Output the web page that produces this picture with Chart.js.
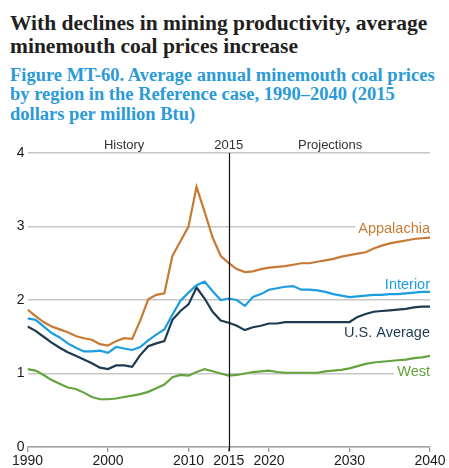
<!DOCTYPE html>
<html>
<head>
<meta charset="utf-8">
<script src="https://cdn.jsdelivr.net/npm/chart.js@4.4.1/dist/chart.umd.min.js"></script>
<style>
  html, body { margin: 0; padding: 0; background: #fff; }
  body { width: 449px; height: 468px; position: relative; overflow: hidden; }
  .title {
    position: absolute; left: 10px; top: 12px; width: 440px;
    font: bold 21.5px "Liberation Serif", "Times New Roman", serif;
    line-height: 22.6px; color: #231f20;
  }
  .subtitle {
    position: absolute; left: 10px; top: 66px; width: 440px;
    font: bold 18.5px "Liberation Serif", "Times New Roman", serif;
    line-height: 19.3px; color: #2a9ad8;
  }
  #wrap { position: absolute; left: 0; top: 130px; width: 449px; height: 338px; }
</style>
</head>
<body>
<div class="title">With declines in mining productivity, average<br>minemouth coal prices increase</div>
<div class="subtitle">Figure MT-60. Average annual minemouth coal prices<br>by region in the Reference case, 1990–2040 (2015<br>dollars per million Btu)</div>
<div id="wrap"><canvas id="coalChart" width="449" height="338"></canvas></div>
<script>
// years 1990..2040
const years = [];
for (let y = 1990; y <= 2040; y++) years.push(y);

const xTicks = [1990, 2000, 2010, 2015, 2020, 2030, 2040];
const yTicks = [0, 1, 2, 3, 4];

// values (2015 dollars per million Btu)
const appalachia = [
  1.87, 1.78, 1.70, 1.64, 1.60, 1.56, 1.51, 1.48, 1.46, 1.40,
  1.38, 1.44, 1.48, 1.47, 1.72, 2.01, 2.07, 2.09, 2.60, 2.80,
  3.00, 3.54, 3.20, 2.85, 2.60, 2.50, 2.42, 2.38, 2.39, 2.42,
  2.44, 2.45, 2.46, 2.48, 2.50, 2.50, 2.52, 2.54, 2.56, 2.59,
  2.61, 2.63, 2.65, 2.70, 2.74, 2.77, 2.79, 2.81, 2.83, 2.84,
  2.85
];
const interior = [
  1.75, 1.73, 1.64, 1.55, 1.49, 1.41, 1.35, 1.30, 1.30, 1.31,
  1.28, 1.36, 1.34, 1.32, 1.36, 1.45, 1.53, 1.60, 1.80, 1.99,
  2.10, 2.20, 2.25, 2.12, 2.00, 2.02, 2.00, 1.92, 2.04, 2.08,
  2.14, 2.16, 2.18, 2.19, 2.14, 2.14, 2.13, 2.11, 2.08, 2.06,
  2.04, 2.05, 2.06, 2.07, 2.07, 2.08, 2.08, 2.09, 2.10, 2.11,
  2.11
];
const usAverage = [
  1.64, 1.58, 1.50, 1.42, 1.35, 1.29, 1.24, 1.19, 1.14, 1.08,
  1.06, 1.11, 1.11, 1.09, 1.25, 1.37, 1.41, 1.44, 1.73, 1.85,
  1.94, 2.17, 2.02, 1.84, 1.72, 1.69, 1.65, 1.59, 1.63, 1.65,
  1.68, 1.68, 1.70, 1.70, 1.70, 1.70, 1.70, 1.70, 1.70, 1.70,
  1.70, 1.77, 1.81, 1.84, 1.85, 1.86, 1.87, 1.88, 1.90, 1.91,
  1.91
];
const west = [
  1.06, 1.04, 0.98, 0.91, 0.86, 0.81, 0.79, 0.74, 0.68, 0.65,
  0.65, 0.66, 0.68, 0.70, 0.72, 0.75, 0.80, 0.85, 0.95, 0.98,
  0.97, 1.02, 1.06, 1.03, 1.00, 0.97, 0.98, 1.00, 1.02, 1.03,
  1.04, 1.02, 1.01, 1.01, 1.01, 1.01, 1.01, 1.03, 1.04, 1.05,
  1.07, 1.10, 1.13, 1.15, 1.16, 1.17, 1.18, 1.19, 1.21, 1.22,
  1.24
];

const colors = {
  appalachia: '#c67a34',
  interior: '#1b9de0',
  usAverage: '#1d3a4f',
  west: '#65a33c'
};

// series name, label baseline (data units), colour
const seriesLabels = [
  { text: 'Appalachia', y: 2.91, color: colors.appalachia, gap: true },
  { text: 'Interior', y: 2.15, color: colors.interior, gap: false },
  { text: 'U.S. Average', y: 1.50, color: colors.usAverage, gap: false },
  { text: 'West', y: 0.966, color: colors.west, gap: true }
];

const headers = [
  { text: 'History', x: 2002 },
  { text: '2015', x: 2015 },
  { text: 'Projections', x: 2027.6 }
];

const labelFont = '14.5px "Liberation Sans", Arial, sans-serif';

function toPoints(values) {
  return years.map((yr, i) => ({ x: yr, y: values[i] }));
}

function makeSet(label, values, color) {
  return {
    label: label,
    data: toPoints(values),
    borderColor: color,
    borderWidth: 2.2,
    pointRadius: 0,
    tension: 0,
    fill: false
  };
}

const notesPlugin = {
  id: 'notes',
  beforeDatasetsDraw(chart) {
    // white gaps in the gridlines behind some labels
    const ctx = chart.ctx;
    const area = chart.chartArea;
    ctx.save();
    ctx.font = labelFont;
    seriesLabels.forEach(l => {
      if (!l.gap) return;
      const w = ctx.measureText(l.text).width;
      const yBase = chart.scales.y.getPixelForValue(l.y);
      ctx.fillStyle = '#fff';
      ctx.fillRect(area.right - w - 3, yBase - 12, w + 6, 12);
    });
    ctx.restore();
  },
  afterDatasetsDraw(chart) {
    const ctx = chart.ctx;
    const area = chart.chartArea;
    const xs = chart.scales.x;
    const ys = chart.scales.y;
    ctx.save();

    // 2015 divider
    const x15 = Math.round(xs.getPixelForValue(2015)) + 0.5;
    ctx.strokeStyle = '#111';
    ctx.lineWidth = 1.2;
    ctx.beginPath();
    ctx.moveTo(x15, area.top);
    ctx.lineTo(x15, area.bottom + 4);
    ctx.stroke();

    // History / 2015 / Projections
    ctx.font = '13px "Liberation Sans", Arial, sans-serif';
    ctx.fillStyle = '#333';
    ctx.textAlign = 'center';
    ctx.textBaseline = 'alphabetic';
    headers.forEach(h => {
      ctx.fillText(h.text, xs.getPixelForValue(h.x), area.top - 4);
    });

    // series labels at right
    ctx.font = labelFont;
    ctx.textAlign = 'right';
    seriesLabels.forEach(l => {
      ctx.fillStyle = l.color;
      ctx.fillText(l.text, area.right, ys.getPixelForValue(l.y));
    });
    ctx.restore();
  }
};

const ctx = document.getElementById('coalChart').getContext('2d');
const chart = new Chart(ctx, {
  type: 'line',
  data: {
    datasets: [
      makeSet('Appalachia', appalachia, colors.appalachia),
      makeSet('Interior', interior, colors.interior),
      makeSet('U.S. Average', usAverage, colors.usAverage),
      makeSet('West', west, colors.west)
    ]
  },
  options: {
    responsive: false,
    devicePixelRatio: 1,
    animation: false,
    layout: { padding: { top: 23, right: 19, left: 0, bottom: 0 } },
    plugins: { legend: { display: false }, tooltip: { enabled: false } },
    scales: {
      x: {
        type: 'linear',
        min: 1990,
        max: 2040,
        afterBuildTicks: s => { s.ticks = xTicks.map(v => ({ value: v })); },
        afterFit: s => { s.height = 21; },
        ticks: {
          autoSkip: false,
          maxRotation: 0,
          padding: 1,
          color: '#1a1a1a',
          font: { size: 14, family: '"Liberation Sans", Arial, sans-serif' },
          callback: v => String(v)
        },
        grid: { drawOnChartArea: false, drawTicks: true, tickLength: 5, color: '#999', lineWidth: 1.3 },
        border: { display: true, color: '#a6a6a6', width: 1.6 }
      },
      y: {
        min: 0,
        max: 4,
        afterBuildTicks: s => { s.ticks = yTicks.map(v => ({ value: v })); },
        afterFit: s => { s.width = 27.5; },
        ticks: {
          padding: 3,
          color: '#1a1a1a',
          font: { size: 14, family: '"Liberation Sans", Arial, sans-serif' }
        },
        grid: { drawTicks: false, color: '#c6c6c6', lineWidth: 1.6 },
        border: { display: false }
      }
    }
  },
  plugins: [notesPlugin]
});
</script>
</body>
</html>
